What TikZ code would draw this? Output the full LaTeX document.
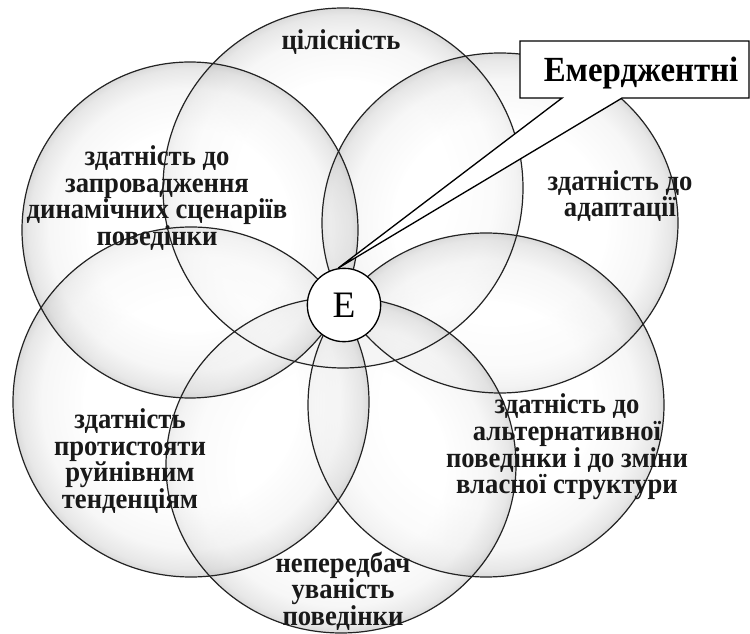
\documentclass[tikz,border=0pt]{standalone}
\usepackage{fontspec}
\setmainfont{Liberation Serif}
\newfontfamily\lblfont[FakeStretch=0.93]{Liberation Serif}
\usetikzlibrary{shapes.callouts}
\pgfdeclareradialshading{bubble}{\pgfpoint{0bp}{0bp}}{color(0bp)=(white); color(15bp)=(white); color(21bp)=(black!6); color(24bp)=(black!18); color(25bp)=(black!28); color(50bp)=(black!28)}
\tikzset{
    lbl/.style={font=\lblfont\bfseries\fontsize{21.5pt}{20pt}\selectfont, align=center, text=black!90, inner sep=0pt},
    ring/.style={draw=myring, line width=0.9pt},
}
\begin{document}
\begin{tikzpicture}[x=0.75pt, y=-0.75pt]
    \definecolor{myring}{RGB}{35,35,35}
    \useasboundingbox (0,0) rectangle (750,634);
    \fill[white] (0,0) rectangle (750,634);

    % six bubbles round the centre
    \foreach \cx/\cy/\rx/\ry in {343/188/180/180, 500/223/178/170, 486/405/178/172, 341/465/175/168, 191/402/178/175, 190/230/168/168} {
        \shade[shading=bubble, fill opacity=0.5] (\cx,\cy) ellipse [x radius=\rx, y radius=\ry];
    }
    \foreach \cx/\cy/\rx/\ry in {343/188/180/180, 500/223/178/170, 486/405/178/172, 341/465/175/168, 191/402/178/175, 190/230/168/168} {
        \draw[ring] (\cx,\cy) ellipse [x radius=\rx, y radius=\ry];
    }

    \node[lbl] (whole) at (341,42) {цілісність};
    \node[lbl] (scen) at (157,198) {здатність до\\запровадження\\динамічних сценаріїв\\поведінки};
    \node[lbl] (adapt) at (620,196) {здатність до\\адаптації};
    \node[lbl] (alter) at (567,447) {здатність до\\альтернативної\\поведінки і до зміни\\власної структури};
    \node[lbl] (unpred) at (343,591) {непередбач\\уваність\\поведінки};
    \node[lbl] (resist) at (130,461) {здатність\\протистояти\\руйнівним\\тенденціям};

    \node[circle, draw, line width=1pt, fill=white, minimum size=55pt, inner sep=0pt,
          font=\fontsize{28pt}{28pt}\selectfont] (ecirc) at (344,305) {Е};

    \node[rectangle callout, draw, fill=white, line width=1pt, inner sep=0pt,
          minimum width=171.75pt, minimum height=42.75pt, text height=17.5pt, text depth=0pt,
          callout absolute pointer={(ecirc.99)}, callout pointer width=45pt,
          font=\lblfont\bfseries\fontsize{26.5pt}{26.5pt}\selectfont] (emerg) at (634.5,69.5) {\hspace*{9.75pt}Емерджентні};
\end{tikzpicture}
\end{document}
